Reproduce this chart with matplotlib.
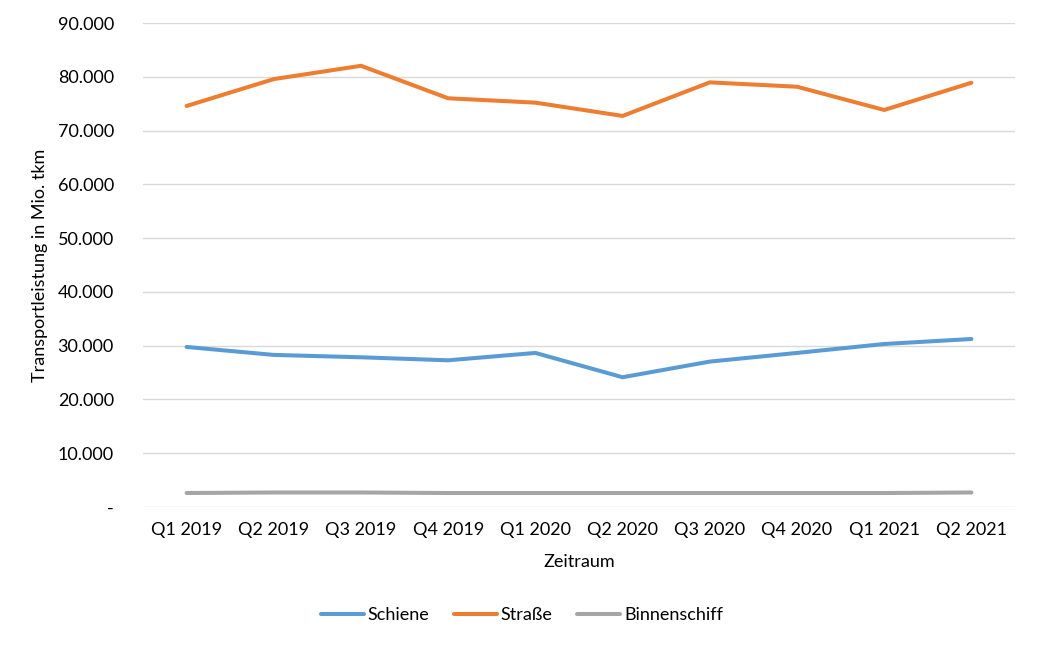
import matplotlib
matplotlib.use("Agg")
import matplotlib.pyplot as plt
from matplotlib.ticker import FuncFormatter

plt.rcParams['font.family'] = ['Lato', 'DejaVu Sans']

quarters = ["Q1 2019", "Q2 2019", "Q3 2019", "Q4 2019", "Q1 2020",
            "Q2 2020", "Q3 2020", "Q4 2020", "Q1 2021", "Q2 2021"]
schiene = [29760, 28280, 27840, 27280, 28650, 24130, 27040, 28650, 30310, 31240]
strasse = [74570, 79570, 82040, 76000, 75190, 72720, 78960, 78150, 73830, 78890]
binnenschiff = [2600, 2700, 2700, 2600, 2600, 2600, 2600, 2600, 2600, 2700]

fig = plt.figure(figsize=(10.38, 6.47), dpi=100)
ax = fig.add_axes([143/1038, 1 - 507/647, (1015-143)/1038, (507-23)/647])

x = range(len(quarters))
ax.plot(x, schiene, color='#5B9BD5', lw=2.9, label='Schiene', solid_capstyle='round')
ax.plot(x, strasse, color='#ED7D31', lw=2.9, label='Straße', solid_capstyle='round')
ax.plot(x, binnenschiff, color='#A5A5A5', lw=2.9, label='Binnenschiff', solid_capstyle='round')

ax.set_xlim(-0.5, len(quarters) - 0.5)
ax.set_ylim(0, 90000)
ax.set_yticks(range(0, 90001, 10000))
ax.yaxis.set_major_formatter(FuncFormatter(lambda v, p: '-' if v == 0 else f"{int(v):,}".replace(',', '.')))
ax.set_xticks(list(x))
ax.set_xticklabels(quarters)
ax.grid(axis='y', color='#D9D9D9', lw=1)
ax.set_axisbelow(True)
for s in ax.spines.values():
    s.set_visible(False)
ax.tick_params(axis='both', length=0, labelsize=13, colors='#000000')
ax.tick_params(axis='y', pad=21)
ax.tick_params(axis='x', pad=11)

ax.set_xlabel('Zeitraum', fontsize=13, va='center')
ax.xaxis.set_label_coords(0.5, -(562 - 507) / 484)
ax.set_ylabel('Transportleistung in Mio. tkm', fontsize=13, va='center')
ax.yaxis.set_label_coords(-(143 - 40) / 872, 0.5)

fig.legend(loc='center', bbox_to_anchor=(522/1038, 1 - 615/647), ncol=3, frameon=False,
           fontsize=13, handlelength=2.4, columnspacing=1.35, handletextpad=0.2)

fig.savefig('out.png', dpi=100)
